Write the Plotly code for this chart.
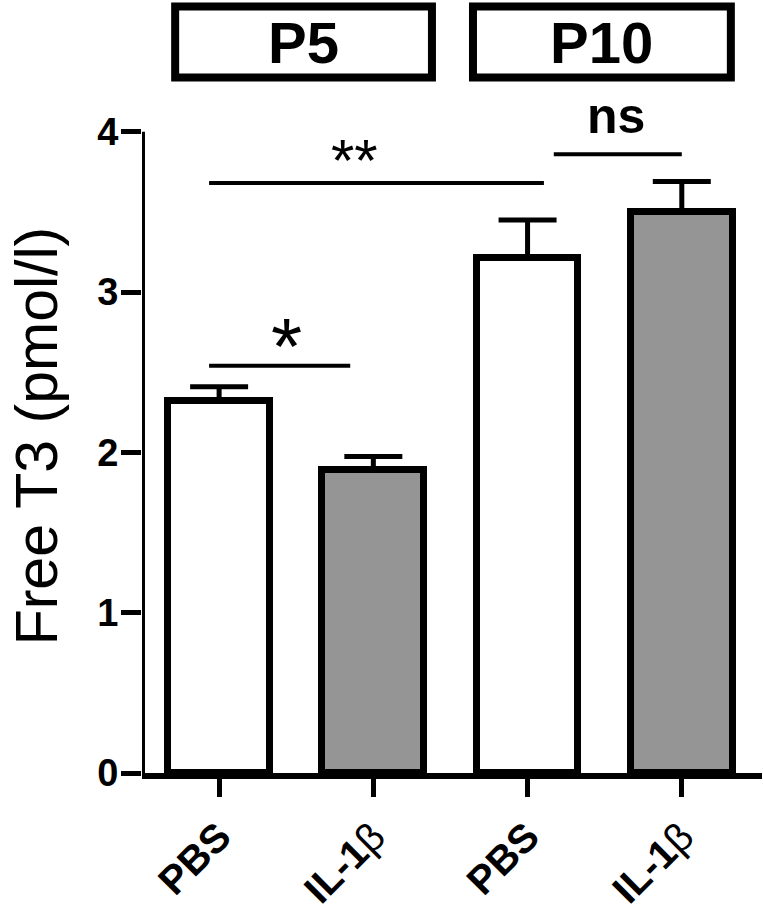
import plotly.graph_objects as go

# data
groups = ["P5", "P10"]
categories = ["PBS", "IL-1β", "PBS", "IL-1β"]
tick_text = ["<b>PBS</b>", "<b>IL-1</b>β", "<b>PBS</b>", "<b>IL-1</b>β"]
free_t3 = [2.32, 1.89, 3.21, 3.50]
sem = [0.09, 0.085, 0.24, 0.19]
bar_colors = ["white", "#959595", "white", "#959595"]

# significance comparisons: (from bar, to bar, level, label)
sig_from = [0, 0, 2]
sig_to = [1, 2, 3]
sig_level = [2.54, 3.68, 3.86]
sig_label = ["*", "**", "ns"]

# placement tweaks for the comparison bars / labels (styling, not data)
sig_start_off = [-0.065, -0.065, 0.17]
sig_end_off = [-0.15, 0.106, 0.0]
sig_text_dx = [0.045, -0.145, -0.01]
sig_text_shift = [19, 23, 38]
sig_text_size = [80, 60, 50]

FONT = "Liberation Sans, Arial, sans-serif"
x = list(range(len(categories)))

fig = go.Figure()

fig.add_trace(go.Bar(
    x=x, y=free_t3, width=0.66,
    marker=dict(color=bar_colors, line=dict(color="black", width=7)),
    error_y=dict(type="data", array=sem, arrayminus=[0] * len(sem), symmetric=False,
                 color="black", thickness=5, width=29),
    showlegend=False, hoverinfo="skip",
))

# y axis line only from 0 to 4
fig.add_trace(go.Scatter(x=[-0.5, -0.5], y=[0, 4], mode="lines",
                         line=dict(color="black", width=6), cliponaxis=False,
                         showlegend=False, hoverinfo="skip"))

# significance bars
for i, lab in enumerate(sig_label):
    xa = sig_from[i] + sig_start_off[i]
    xb = sig_to[i] + sig_end_off[i]
    lvl = sig_level[i]
    fig.add_trace(go.Scatter(x=[xa, xb], y=[lvl, lvl], mode="lines",
                             line=dict(color="black", width=4), cliponaxis=False,
                             showlegend=False, hoverinfo="skip"))
    txt = f"<b>{lab}</b>" if lab == "ns" else lab
    fig.add_annotation(x=(xa + xb) / 2 + sig_text_dx[i], y=lvl, yshift=sig_text_shift[i],
                       yanchor="middle", text=txt, showarrow=False,
                       font=dict(family=FONT, size=sig_text_size[i], color="black"))

# group boxes
box_left = [-0.285, 1.646]
box_right = [1.38, 3.318]
for g, l, r in zip(groups, box_left, box_right):
    fig.add_shape(type="rect", xref="x", yref="y", x0=l, x1=r, y0=4.339, y1=4.782,
                  line=dict(color="black", width=8), fillcolor="white")
    fig.add_annotation(x=(l + r) / 2, y=4.56, text=f"<b>{g}</b>", showarrow=False,
                       font=dict(family=FONT, size=58, color="black"))

# y title
fig.add_annotation(xref="paper", yref="y", x=0, y=2.1, xshift=-105, xanchor="center",
                   yanchor="middle", textangle=-90, text="Free T3 (pmol/l)",
                   showarrow=False, font=dict(family=FONT, size=59, color="black"))

fig.update_layout(
    width=763, height=913,
    margin=dict(l=142, r=1, t=0, b=140),
    plot_bgcolor="white", paper_bgcolor="white",
    bargap=0,
    font=dict(family=FONT, color="black"),
)
fig.update_xaxes(range=[-0.5, 3.52], tickmode="array", tickvals=x, ticktext=tick_text,
                 tickangle=-45, tickfont=dict(size=40, family=FONT), automargin=False,
                 showline=True, linecolor="black", linewidth=6,
                 ticks="outside", ticklen=18, tickwidth=5, tickcolor="black",
                 showgrid=False, zeroline=False)
fig.update_yaxes(range=[0, 4.822], tickmode="array", tickvals=[0, 1, 2, 3, 4],
                 ticktext=["<b>0</b>", "<b>1</b>", "<b>2</b>", "<b>3</b>", "<b>4</b>"],
                 tickfont=dict(size=38, family=FONT), automargin=False,
                 ticklabelstandoff=-5,
                 showline=False, ticks="outside", ticklen=20, tickwidth=5,
                 tickcolor="black", showgrid=False, zeroline=False)

# page body has an 8px default margin; drop it so the figure sits at (0, 0)
fig.write_html("out.html", config={"displayModeBar": False},
               post_script="document.body.style.margin='0px';")
